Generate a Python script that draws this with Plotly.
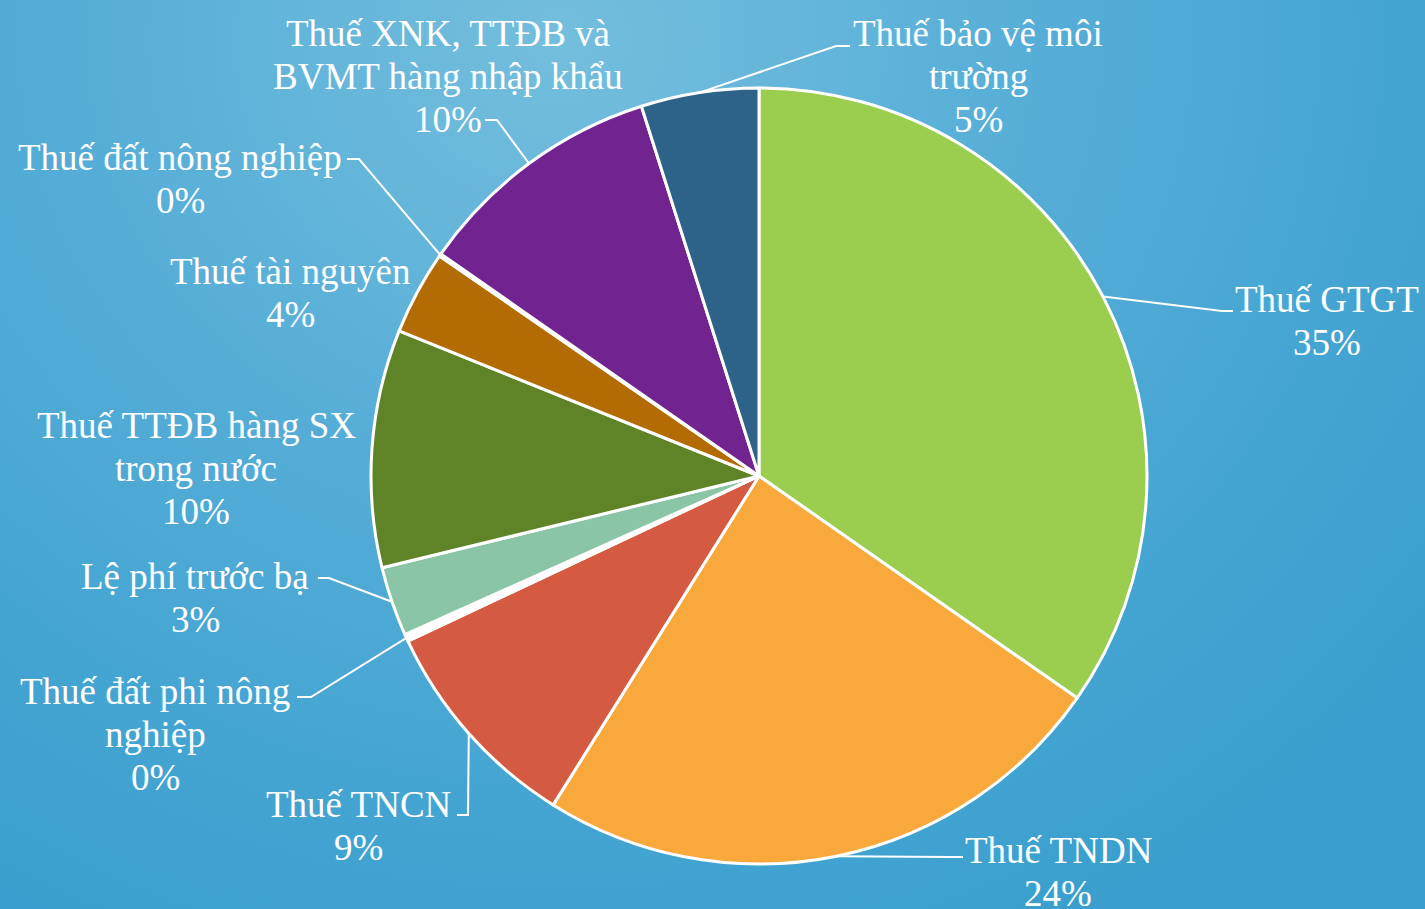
import math
import plotly.graph_objects as go

# ---- data ----
categories = [
    "Thuế GTGT",
    "Thuế TNDN",
    "Thuế TNCN",
    "Thuế đất phi nông nghiệp",
    "Lệ phí trước bạ",
    "Thuế TTĐB hàng SX trong nước",
    "Thuế tài nguyên",
    "Thuế đất nông nghiệp",
    "Thuế XNK, TTĐB và BVMT hàng nhập khẩu",
    "Thuế bảo vệ môi trường",
]
values = [34.7, 24.2, 9.1, 0.3, 2.9, 9.9, 3.5, 0.1, 10.4, 4.9]
colors = ["#9BCE4F", "#F9A83C", "#D45A42", "#FFFFFF", "#8BC5A8",
          "#5E8427", "#B36B04", "#FFFFFF", "#712490", "#2E6389"]

# ---- label layout (pixel positions; lines as displayed) ----
label_layout = {
    "Thuế GTGT": dict(x=1327, y=299, lines=["Thuế GTGT"], leader=(1222, 311, 1233)),
    "Thuế TNDN": dict(x=1058, y=850, lines=["Thuế TNDN"], leader=(952, 857, 963)),
    "Thuế TNCN": dict(x=358, y=804, lines=["Thuế TNCN"], leader=(468, 815, 457)),
    "Thuế đất phi nông nghiệp": dict(x=155, y=691, lines=["Thuế đất phi nông", "nghiệp"], leader=(311, 697, 297)),
    "Lệ phí trước bạ": dict(x=195, y=576, lines=["Lệ phí trước bạ"], leader=(329, 578, 318)),
    "Thuế TTĐB hàng SX trong nước": dict(x=196, y=425, lines=["Thuế TTĐB hàng SX", "trong nước"], leader=None),
    "Thuế tài nguyên": dict(x=290, y=271, lines=["Thuế tài nguyên"], leader=None),
    "Thuế đất nông nghiệp": dict(x=180, y=157, lines=["Thuế đất nông nghiệp"], leader=(359, 159, 347)),
    "Thuế XNK, TTĐB và BVMT hàng nhập khẩu": dict(x=448, y=33, lines=["Thuế XNK, TTĐB và", "BVMT hàng nhập khẩu"], leader=(497, 120, 485)),
    "Thuế bảo vệ môi trường": dict(x=978, y=33, lines=["Thuế bảo vệ môi", "trường"], leader=(836, 46, 850)),
}

W, H = 1425, 909
CX, CY, R = 759, 476, 388
LINE_H = 43
FONT = "Liberation Serif, Times New Roman, serif"

fig = go.Figure()

# background gradient rectangle on hidden axes
fig.add_trace(go.Scatter(
    x=[-540, 1660, 1660, -540, -540], y=[-960, -960, 1040, 1040, -960],
    mode="lines", line=dict(width=0), fill="toself",
    fillgradient=dict(type="radial",
                      colorscale=[[0, "#74BEDD"], [0.45, "#55ADD7"], [0.75, "#45A5D2"], [1, "#3A9FCE"]]),
    hoverinfo="skip", showlegend=False,
))

fig.add_trace(go.Pie(
    labels=categories, values=values, sort=False, direction="clockwise", rotation=0,
    marker=dict(colors=colors, line=dict(color="white", width=3)),
    textinfo="none", hoverinfo="label+percent", showlegend=False,
    domain=dict(x=[(CX - R) / W, (CX + R) / W], y=[1 - (CY + R) / H, 1 - (CY - R) / H]),
))

total = sum(values)
annotations = []
shapes = []
cum = 0.0
for cat, v in zip(categories, values):
    pct = round(v / total * 100)
    mid = (cum + v / 2) / total * 2 * math.pi
    cum += v
    lay = label_layout[cat]
    lines = lay["lines"] + [f"{pct}%"]
    for i, t in enumerate(lines):
        annotations.append(dict(
            x=lay["x"], y=lay["y"] + i * LINE_H, xref="x", yref="y",
            text=t, showarrow=False, xanchor="center", yanchor="middle",
            font=dict(family=FONT, size=37, color="white"),
        ))
    if lay["leader"]:
        ex, ey, endx = lay["leader"]
        px = CX + R * math.sin(mid)
        py = CY - R * math.cos(mid)
        shapes.append(dict(
            type="path", xref="x", yref="y", layer="above",
            path=f"M {px:.1f} {py:.1f} L {ex} {ey} L {endx} {ey}",
            line=dict(color="white", width=2),
        ))

fig.update_layout(
    width=W, height=H, margin=dict(l=0, r=0, t=0, b=0),
    paper_bgcolor="#45A5D2", plot_bgcolor="rgba(0,0,0,0)",
    xaxis=dict(range=[0, W], visible=False, domain=[0, 1], fixedrange=True),
    yaxis=dict(range=[H, 0], visible=False, domain=[0, 1], fixedrange=True),
    annotations=annotations, shapes=shapes,
)

fig.write_html("out.html", config={"displayModeBar": False},
               post_script="document.body.style.margin='0';document.body.style.overflow='hidden';")
